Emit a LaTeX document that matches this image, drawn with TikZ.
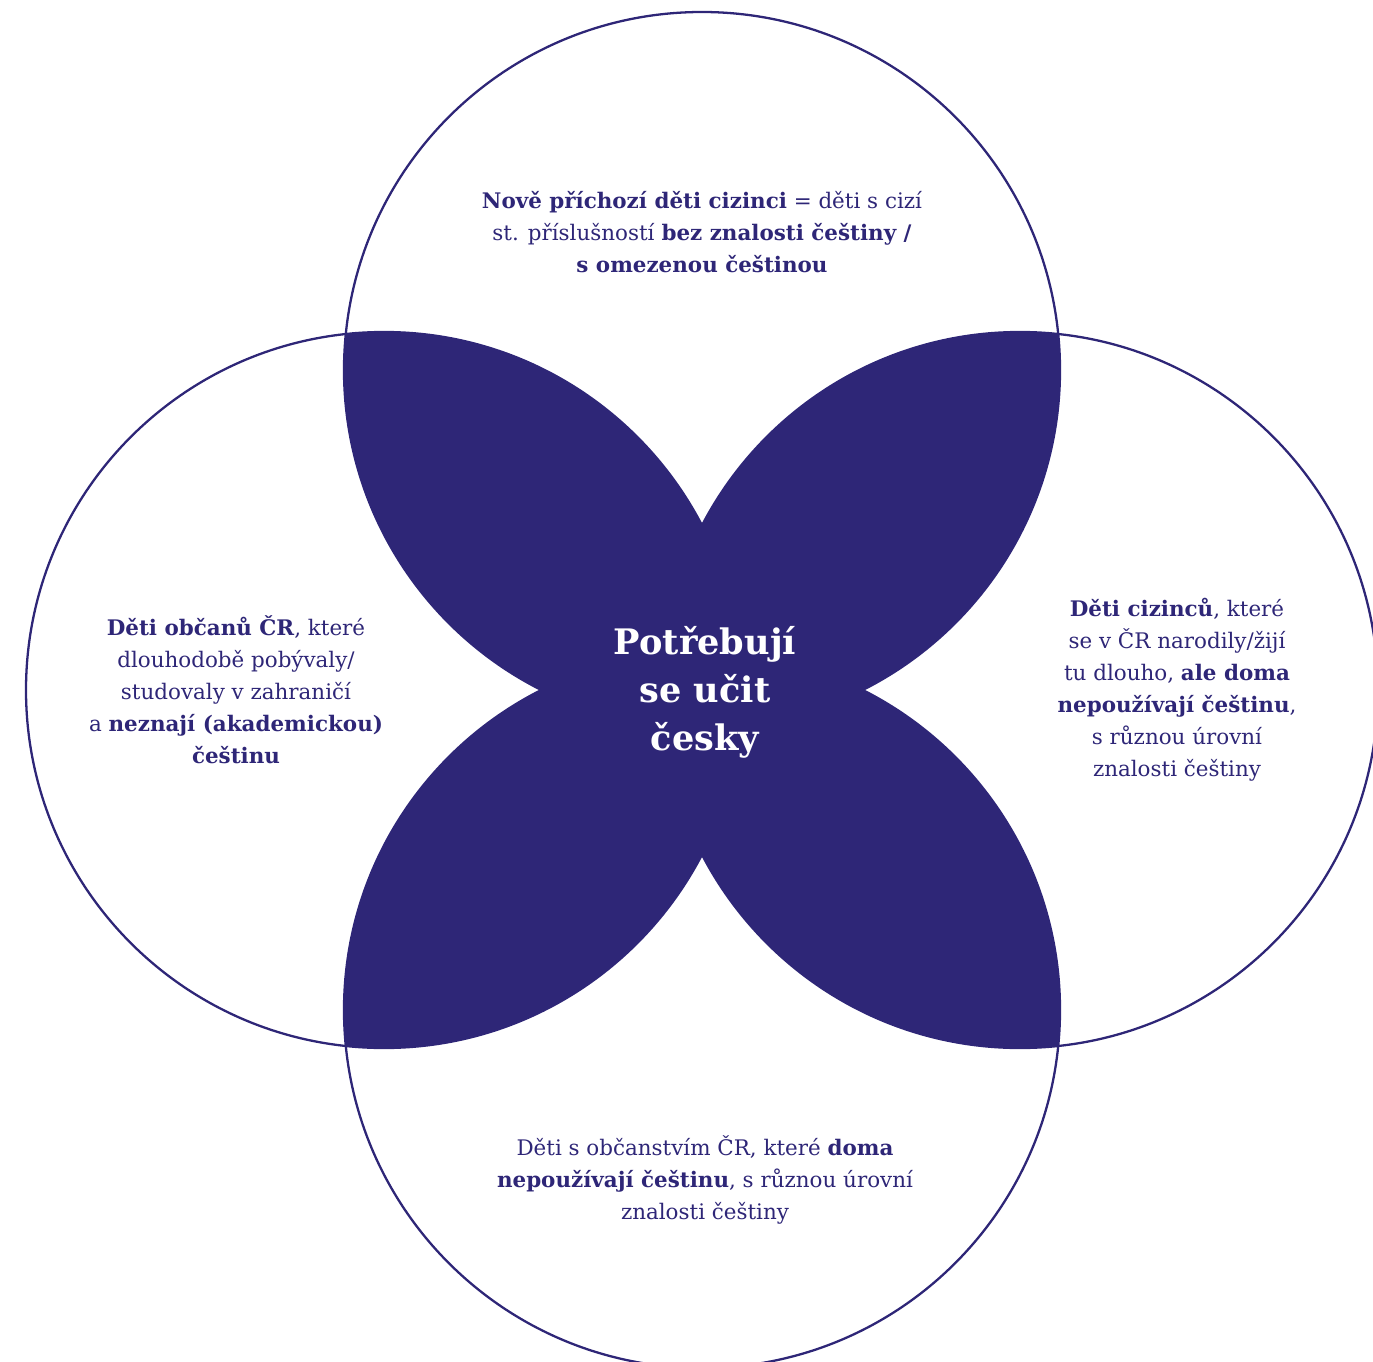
\documentclass[tikz,border=0pt]{standalone}
\usepackage{fontspec}
\setmainfont{DejaVu Serif}
\definecolor{fialova}{HTML}{2E2677}

\begin{document}
\begin{tikzpicture}[x=0.02cm, y=-0.02cm,
  kruh/.style={draw=fialova, line width=1.3pt},
  popis/.style={text=fialova, align=center, font=\fontsize{12.2}{18.2}\selectfont},
  stred/.style={text=white, align=center, font=\fontsize{20}{27.3}\selectfont\bfseries}]

\useasboundingbox (0, 0) rectangle (1373, 1362);
\clip (0, 0) rectangle (1373, 1362);

\coordinate (horni) at (702, 370);
\coordinate (dolni) at (702, 1010);
\coordinate (leva) at (384, 690);
\coordinate (prava) at (1020, 690);

% prunik sousednich kruhu
\begin{scope} \clip (horni) circle (358); \fill [fialova] (leva) circle (358); \end{scope}
\begin{scope} \clip (horni) circle (358); \fill [fialova] (prava) circle (358); \end{scope}
\begin{scope} \clip (dolni) circle (358); \fill [fialova] (leva) circle (358); \end{scope}
\begin{scope} \clip (dolni) circle (358); \fill [fialova] (prava) circle (358); \end{scope}

\draw [kruh] (horni) circle (358);
\draw [kruh] (dolni) circle (358);
\draw [kruh] (leva) circle (358);
\draw [kruh] (prava) circle (358);

\node [popis] (tH) at (702, 232) {\textbf{Nově příchozí děti cizinci} = děti s cizí\\
  st. příslušností \textbf{bez znalosti češtiny /}\\ \textbf{s omezenou češtinou}};
\node [popis] (tL) at (236, 690) {\textbf{Děti občanů ČR}, které\\ dlouhodobě pobývaly/\\
  studovaly v zahraničí\\ a \textbf{neznají (akademickou)}\\ \textbf{češtinu}};
\node [popis] (tP) at (1177, 690) {\textbf{Děti cizinců}, které\\ se v ČR narodily/žijí\\
  tu dlouho, \textbf{ale doma}\\ \textbf{nepoužívají češtinu},\\ s různou úrovní\\ znalosti češtiny};
\node [popis] (tD) at (705, 1180) {Děti s občanstvím ČR, které \textbf{doma}\\
  \textbf{nepoužívají češtinu}, s různou úrovní\\ znalosti češtiny};
\node [stred] (tS) at (705, 692) {Potřebují\\ se učit\\ česky};
\end{tikzpicture}
\end{document}
